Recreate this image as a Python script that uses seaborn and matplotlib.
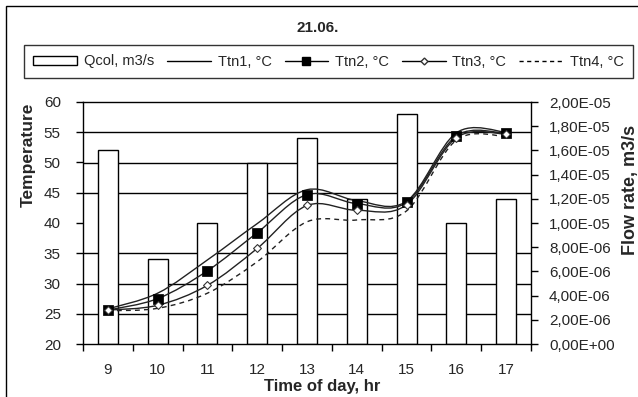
import numpy as np
import pandas as pd
import seaborn as sns
import matplotlib
matplotlib.use("Agg")
import matplotlib.pyplot as plt
from matplotlib.path import Path
from matplotlib.patches import PathPatch, Rectangle
from matplotlib.lines import Line2D
from matplotlib.ticker import MultipleLocator, FixedLocator, FuncFormatter, NullFormatter

# ---- data -------------------------------------------------------------
hours = [9, 10, 11, 12, 13, 14, 15, 16, 17]
q_col = [1.6e-5, 0.7e-5, 1.0e-5, 1.5e-5, 1.7e-5, 1.2e-5, 1.9e-5, 1.0e-5, 1.2e-5]
ttn1 = [25.8, 28.4, 33.9, 39.9, 45.5, 43.7, 43.6, 54.9, 55.0]
ttn2 = [25.6, 27.5, 32.1, 38.4, 44.7, 43.2, 43.4, 54.4, 54.8]
ttn3 = [25.6, 26.4, 29.7, 35.8, 42.9, 42.1, 43.0, 54.1, 54.7]
ttn4 = [25.5, 25.9, 28.4, 33.6, 40.2, 40.5, 42.0, 53.7, 54.3]

title = "21.06."
labels = ["Qcol, m3/s", "Ttn1, \u00b0C", "Ttn2, \u00b0C", "Ttn3, \u00b0C", "Ttn4, \u00b0C"]

sns.set_theme(style="white")
plt.rcParams["font.family"] = ["Liberation Sans", "DejaVu Sans"]
TICK_FS = 11

W, H = 638, 397
fig = plt.figure(figsize=(W / 100, H / 100), dpi=100)
fig.patch.set_facecolor("white")

# outer chart frame (only the left/top edges fall inside the image)
fig.patches.append(Rectangle((6 / W, -0.05), 1.2, (H - 6) / H + 0.05,
                             transform=fig.transFigure, fill=False,
                             edgecolor="black", linewidth=1.0))

x0, x1, ytop, ybot = 83, 531, 102, 344
rect = [x0 / W, 1 - ybot / H, (x1 - x0) / W, (ybot - ytop) / H]

# bars on the flow-rate axis
ax_q = fig.add_axes(rect)
df = pd.DataFrame({"hour": hours, "q": q_col})
sns.barplot(data=df, x="hour", y="q", ax=ax_q, color="white",
            edgecolor="black", linewidth=1.0, width=0.4, saturation=1)

# temperature axis carrying the curves
ax_t = ax_q.twinx()

ax_q.set_xlim(-0.5, len(hours) - 0.5)
ax_q.set_ylim(0, 2e-5)
ax_q.yaxis.set_major_locator(MultipleLocator(2e-6))
ax_q.yaxis.set_major_formatter(FuncFormatter(lambda v, p: f"{v:.2E}".replace(".", ",")))
# horizontal grid every 5 degrees (= 2.5e-6 on the flow scale), behind the bars
ax_q.yaxis.set_minor_locator(MultipleLocator(2.5e-6))
ax_q.yaxis.set_minor_formatter(NullFormatter())
ax_q.grid(False)
ax_q.grid(which="minor", axis="y", color="black", linewidth=1.0)
ax_q.set_axisbelow(True)
ax_q.yaxis.tick_right()
ax_q.tick_params(axis="y", which="major", direction="out", length=5, width=1,
                 color="black", right=True, left=False, labelright=True,
                 labelleft=False, labelsize=TICK_FS, pad=8)
ax_q.tick_params(axis="y", which="minor", length=0, right=False, left=False)

# category ticks at boundaries, labels at centres
ax_q.xaxis.set_major_locator(FixedLocator(np.arange(-0.5, len(hours), 1.0)))
ax_q.xaxis.set_major_formatter(NullFormatter())
ax_q.xaxis.set_minor_locator(FixedLocator(np.arange(len(hours))))
ax_q.xaxis.set_minor_formatter(FuncFormatter(lambda v, p: str(hours[int(round(v))])))
ax_q.tick_params(axis="x", which="major", direction="out", length=5, width=1,
                 color="black", bottom=True)
ax_q.tick_params(axis="x", which="minor", length=0, pad=14, labelsize=TICK_FS,
                 bottom=True)
for s in ax_q.spines.values():
    s.set_visible(True)
    s.set_color("black")
    s.set_linewidth(1.0)

ax_q.set_xlabel("Time of day, hr", fontweight="bold", fontsize=12)
ax_q.xaxis.set_label_coords(0.533, -0.143)
ax_q.xaxis.label.set_verticalalignment("top")
ax_q.set_ylabel("")

ax_t.set_ylim(20, 60)
ax_t.yaxis.set_major_locator(MultipleLocator(5))
ax_t.yaxis.tick_left()
ax_t.tick_params(axis="y", direction="out", length=5, width=1, color="black",
                 left=True, right=False, labelleft=True, labelright=False,
                 labelsize=TICK_FS, pad=11)
ax_t.grid(False)
for s in ax_t.spines.values():
    s.set_visible(False)
ax_t.set_ylabel("")


def smooth_path(xs, ys):
    """Bezier path through the points, tangents from neighbouring points."""
    pts = np.column_stack([xs, ys]).astype(float)
    n = len(pts)
    verts = [pts[0]]
    codes = [Path.MOVETO]
    for i in range(n - 1):
        p_prev = pts[max(i - 1, 0)]
        p0, p1 = pts[i], pts[i + 1]
        p_next = pts[min(i + 2, n - 1)]
        c1 = p0 + (p1 - p_prev) / 6.0
        c2 = p1 - (p_next - p0) / 6.0
        verts += [c1, c2, p1]
        codes += [Path.CURVE4] * 3
    return Path(verts, codes)


pos = np.arange(len(hours))
line_color = "#222222"
series = [
    (ttn1, "-"),
    (ttn2, "-"),
    (ttn3, "-"),
    (ttn4, (0, (3.5, 3))),
]
for vals, ls in series:
    ax_t.add_patch(PathPatch(smooth_path(pos, vals), fill=False, edgecolor=line_color,
                             linewidth=1.0, linestyle=ls, zorder=3))

sns.scatterplot(x=pos, y=ttn2, ax=ax_t, marker="s", color="black",
                edgecolor="black", s=42, zorder=4, legend=False)
sns.scatterplot(x=pos, y=ttn3, ax=ax_t, marker="D", color="white",
                edgecolor="#333333", linewidth=0.8, s=16, zorder=4, legend=False)
ax_t.set_xlim(-0.5, len(hours) - 0.5)
ax_t.set_xlabel("")

# axis titles
fig.text(28 / W, 1 - 155 / H, "Temperature", rotation=90, ha="center", va="center",
         fontweight="bold", fontsize=12.5)
fig.text(630 / W, 1 - 190 / H, "Flow rate, m3/s", rotation=90, ha="center",
         va="center", fontweight="bold", fontsize=13)

# title and legend
fig.text(318 / W, 1 - 28 / H, title, ha="center", va="center",
         fontweight="bold", fontsize=11)

handles = [
    Rectangle((0, 0), 1, 1, facecolor="white", edgecolor="black", linewidth=1.0),
    Line2D([], [], color="black", linewidth=1.0),
    Line2D([], [], color="black", linewidth=1.0, marker="s", markersize=5.5),
    Line2D([], [], color="black", linewidth=1.0, marker="D", markersize=3.5,
           markerfacecolor="white", markeredgecolor="#333333"),
    Line2D([], [], color="black", linewidth=1.0, linestyle=(0, (3, 2.5))),
]
lx0, lx1, ly0, ly1 = 24, 633, 42, 81
leg = fig.legend(handles, labels, ncol=5, loc="center", mode="expand",
                 bbox_to_anchor=(lx0 / W, 1 - ly1 / H, (lx1 - lx0) / W, (ly1 - ly0) / H),
                 frameon=True, fontsize=10.5, handlelength=3.0, handleheight=0.55,
                 handletextpad=0.45, columnspacing=0.5, borderpad=0.65,
                 fancybox=False, borderaxespad=0)
leg.get_frame().set_edgecolor("black")
leg.get_frame().set_linewidth(1.0)

fig.savefig("out.png", dpi=100, facecolor="white")
